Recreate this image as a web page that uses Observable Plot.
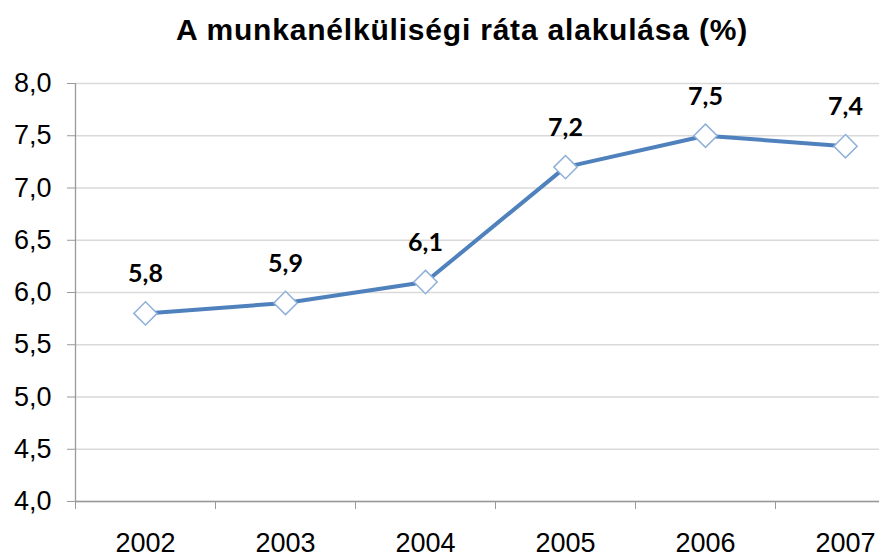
<!DOCTYPE html>
<html><head><meta charset="utf-8">
<script src="https://cdn.jsdelivr.net/npm/d3@7"></script>
<script src="https://cdn.jsdelivr.net/npm/@observablehq/plot@0.6"></script>
<style>
body{margin:0;background:#fff;overflow:hidden}
#wrap{position:relative;width:879px;height:553px}
#title{position:absolute;left:0;top:15px;width:924px;text-align:center;font-family:"Liberation Sans",Arial,sans-serif;font-weight:bold;font-size:30px;line-height:30px;letter-spacing:0.8px;color:#000;z-index:2}
</style></head><body>
<div id="wrap"><div id="title">A munkanélküliségi ráta alakulása (%)</div><div id="chart"></div></div>
<script>
const years = [2002, 2003, 2004, 2005, 2006, 2007];
const rates = [5.8, 5.9, 6.1, 7.2, 7.5, 7.4];
const yTicks = [4.0, 4.5, 5.0, 5.5, 6.0, 6.5, 7.0, 7.5, 8.0];

const data = years.map((y, i) => ({year: y, rate: rates[i]}));
const bounds = years.map(y => y - 0.5).concat([years[years.length - 1] + 0.5]);
const fmt = v => v.toFixed(1).replace(".", ",");

const chart = Plot.plot({
  width: 879,
  height: 553,
  marginTop: 83,
  marginBottom: 52,
  marginLeft: 75,
  marginRight: 0,
  style: {fontFamily: "'Liberation Sans', Arial, sans-serif", fontSize: "27px", overflow: "visible", color: "#000"},
  x: {type: "linear", domain: [bounds[0], bounds[bounds.length - 1]], range: [75, 915]},
  y: {domain: [4, 8]},
  marks: [
    Plot.gridY(yTicks, {stroke: "#d9d9d9", strokeOpacity: 1, strokeWidth: 1.3}),
    Plot.axisY(yTicks, {tickFormat: fmt, tickSize: 8, tickPadding: 16, stroke: "#999", strokeOpacity: 1, label: null}),
    Plot.axisX(bounds, {tickFormat: () => "", tickSize: 8, stroke: "#999", strokeOpacity: 1, label: null}),
    Plot.axisX(years, {tickFormat: d => String(d), tickSize: 0, tickPadding: 31, label: null}),
    Plot.ruleX([bounds[0]], {stroke: "#999", strokeWidth: 1.3}),
    Plot.ruleY([4], {stroke: "#999", strokeWidth: 1.3}),
    Plot.line(data, {x: "year", y: "rate", stroke: "#4f81bd", strokeWidth: 4}),
    Plot.dot(data, {x: "year", y: "rate", symbol: "diamond2", r: 10.5, fill: "#fff", stroke: "#8fb0da", strokeWidth: 1.5}),
    Plot.text(data, {x: "year", y: "rate", text: d => fmt(d.rate), dy: -39, fontSize: 25, fontWeight: "bold", fontFamily: "Lato, 'Open Sans', sans-serif", fill: "#000"})
  ]
});
document.getElementById("chart").appendChild(chart);
</script></body></html>
